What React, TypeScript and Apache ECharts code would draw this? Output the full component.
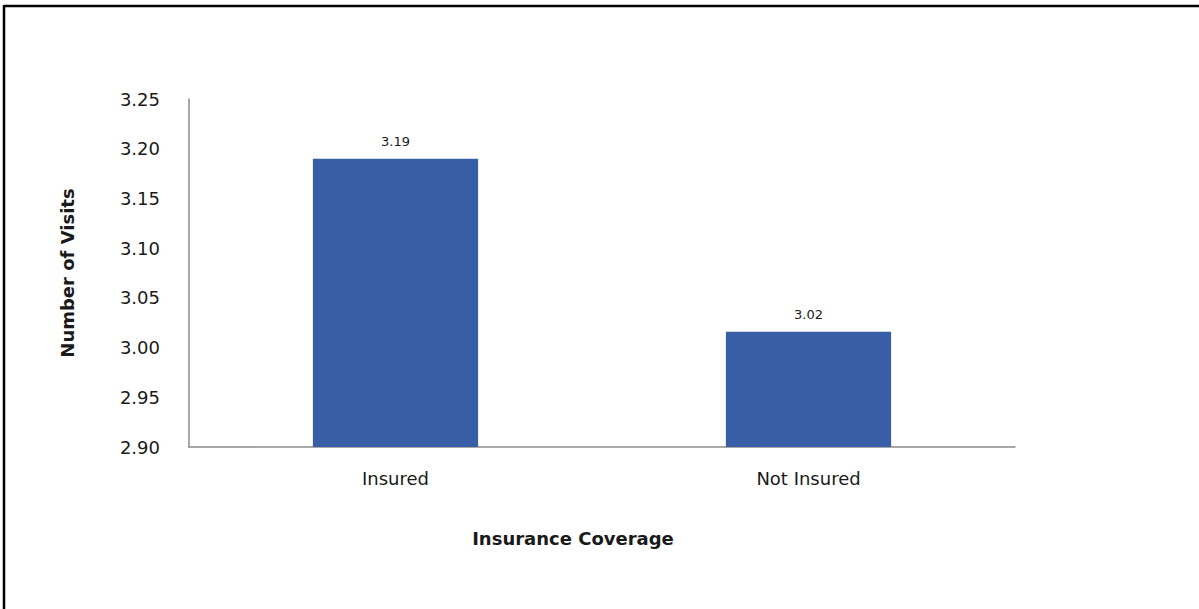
import React, { useEffect, useRef } from "react";
import * as echarts from "echarts";

const categories = ["Insured", "Not Insured"];
const visits = [3.19, 3.016];
const yMin = 2.9;
const yMax = 3.25;
const yStep = 0.05;

const FONT = "'DejaVu Sans', 'Noto Sans', sans-serif";

export default function App() {
  const ref = useRef<HTMLDivElement>(null);

  useEffect(() => {
    document.body.style.margin = "0";
    const chart = echarts.init(ref.current!, null, { renderer: "svg" });
    chart.setOption({
      animation: false,
      backgroundColor: "#ffffff",
      grid: { left: 189, right: 184, top: 99, bottom: 162, containLabel: false },
      graphic: [
        {
          type: "line",
          shape: { x1: 4, y1: 6, x2: 1199, y2: 6 },
          style: { stroke: "#000", lineWidth: 2.5 },
          silent: true,
        },
        {
          type: "line",
          shape: { x1: 4, y1: 5, x2: 4, y2: 609 },
          style: { stroke: "#000", lineWidth: 2.5 },
          silent: true,
        },
      ],
      xAxis: {
        type: "category",
        data: categories,
        name: "Insurance Coverage",
        nameLocation: "middle",
        nameGap: 82,
        nameTextStyle: {
          fontFamily: FONT,
          fontSize: 18,
          fontWeight: "bold",
          color: "#1a1a1a",
          padding: [0, 58, 0, 0],
        },
        axisLine: { lineStyle: { color: "#8c8c8c", width: 1.5 } },
        axisTick: { show: false },
        axisLabel: { fontFamily: FONT, fontSize: 18, color: "#1a1a1a", margin: 22 },
      },
      yAxis: {
        type: "value",
        min: yMin,
        max: yMax,
        interval: yStep,
        name: "Number of Visits",
        nameLocation: "middle",
        nameGap: 113,
        nameTextStyle: { fontFamily: FONT, fontSize: 18, fontWeight: "bold", color: "#1a1a1a" },
        axisLine: { show: true, lineStyle: { color: "#8c8c8c", width: 1.5 } },
        axisTick: { show: false },
        splitLine: { show: false },
        axisLabel: {
          fontFamily: FONT,
          fontSize: 18,
          color: "#1a1a1a",
          margin: 29,
          formatter: (v: number) => v.toFixed(2),
        },
      },
      series: [
        {
          type: "bar",
          data: visits,
          barWidth: "40%",
          itemStyle: { color: "#385EA7" },
          label: {
            show: true,
            position: "top",
            distance: 11,
            fontFamily: FONT,
            fontSize: 13,
            color: "#1a1a1a",
            formatter: (p: any) => (Math.round(p.value * 100) / 100).toFixed(2),
          },
        },
      ],
    });
    return () => chart.dispose();
  }, []);

  return <div ref={ref} style={{ width: 1199, height: 609 }} />;
}
